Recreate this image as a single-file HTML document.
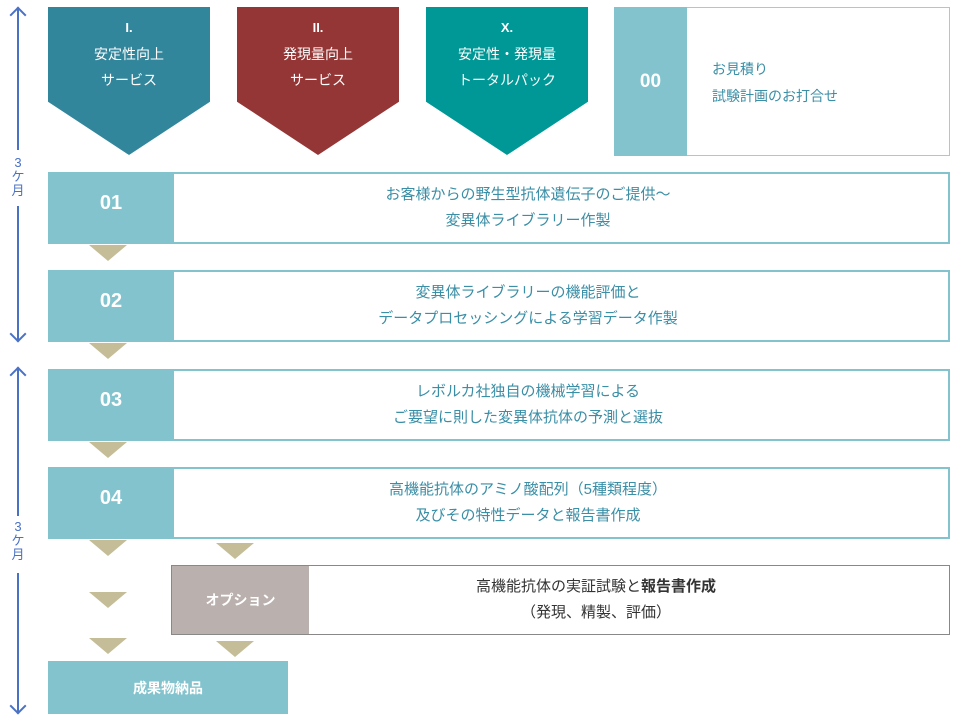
<!DOCTYPE html>
<html><head><meta charset="utf-8"><style>
*{margin:0;padding:0;box-sizing:border-box}
body{width:971px;height:723px;background:#fff;position:relative;overflow:hidden;font-family:"Liberation Sans","Noto Sans CJK JP",sans-serif}
.a{position:absolute}
.pent{position:absolute;top:7px;width:162px;height:148px;clip-path:polygon(0 0,100% 0,100% 64%,50% 100%,0 64%);color:#fff;text-align:center;font-size:14px;line-height:26px;padding-top:7px}
.pent b{font-size:13px}
.row{position:absolute;left:48px;width:902px;height:72px;border:2px solid #83c3cd;background:#fff}
.num{position:absolute;left:-2px;top:-2px;width:126px;height:72px;background:#83c3cd;color:#fff;font-weight:bold;font-size:20px;display:flex;align-items:center;justify-content:center;padding-bottom:10px}
.txt{position:absolute;left:124px;right:66px;top:0;bottom:0;display:flex;flex-direction:column;align-items:center;justify-content:center;color:#3a8ea6;font-size:15px;line-height:26px;padding-bottom:0}
.tri{position:absolute;width:0;height:0;border-left:19px solid transparent;border-right:19px solid transparent;border-top:16px solid #c5bd98}
.tl{position:absolute;left:17px;width:2px;background:#4a72c4}
.lab{position:absolute;left:10px;width:16px;color:#4a72c4;font-size:13px;line-height:14px;text-align:center}
.ah{position:absolute;left:11px;width:12px;height:12px;border-left:2px solid #4a72c4;border-top:2px solid #4a72c4}
</style></head><body>
<div class="tl" style="top:8px;height:142px"></div>
<div class="ah" style="top:9px;left:12px;transform:rotate(45deg)"></div>
<div class="lab" style="top:156px">3<br>ケ<br>月</div>
<div class="tl" style="top:206px;height:135px"></div>
<div class="ah" style="top:328px;left:12px;transform:rotate(225deg)"></div>
<div class="tl" style="top:368px;height:148px"></div>
<div class="ah" style="top:369px;left:12px;transform:rotate(45deg)"></div>
<div class="lab" style="top:520px">3<br>ケ<br>月</div>
<div class="tl" style="top:573px;height:140px"></div>
<div class="ah" style="top:700px;left:12px;transform:rotate(225deg)"></div>

<div class="pent" style="left:48px;background:#32869b"><b>I.</b><br>安定性向上<br>サービス</div>
<div class="pent" style="left:237px;background:#943636"><b>II.</b><br>発現量向上<br>サービス</div>
<div class="pent" style="left:426px;background:#009896"><b>X.</b><br>安定性・発現量<br>トータルパック</div>

<div class="a" style="left:614px;top:7px;width:336px;height:149px;border:1px solid #9fcdd4">
<div class="a" style="left:-1px;top:-1px;width:73px;height:149px;background:#83c3cd;color:#fff;font-weight:bold;font-size:19px;display:flex;align-items:center;justify-content:center">00</div>
<div class="a" style="left:97px;top:48px;color:#3a8ea6;font-size:14px;line-height:27px">お見積り<br>試験計画のお打合せ</div>
</div>

<div class="row" style="top:172px"><div class="num">01</div><div class="txt"><div>お客様からの野生型抗体遺伝子のご提供～</div><div>変異体ライブラリー作製</div></div></div>
<div class="tri" style="left:89px;top:245px"></div>
<div class="row" style="top:270px"><div class="num">02</div><div class="txt"><div>変異体ライブラリーの機能評価と</div><div>データプロセッシングによる学習データ作製</div></div></div>
<div class="tri" style="left:89px;top:343px"></div>
<div class="row" style="top:369px"><div class="num">03</div><div class="txt"><div>レボルカ社独自の機械学習による</div><div>ご要望に則した変異体抗体の予測と選抜</div></div></div>
<div class="tri" style="left:89px;top:442px"></div>
<div class="row" style="top:467px"><div class="num">04</div><div class="txt"><div>高機能抗体のアミノ酸配列（5種類程度）</div><div>及びその特性データと報告書作成</div></div></div>

<div class="tri" style="left:89px;top:540px"></div>
<div class="tri" style="left:216px;top:543px"></div>
<div class="tri" style="left:89px;top:592px"></div>
<div class="tri" style="left:89px;top:638px"></div>
<div class="tri" style="left:216px;top:641px"></div>

<div class="a" style="left:171px;top:565px;width:779px;height:70px;border:1px solid #888">
<div class="a" style="left:-1px;top:-1px;width:138px;height:70px;background:#bab0ae;color:#fff;font-weight:bold;font-size:14px;display:flex;align-items:center;justify-content:center;border:1px solid #888;border-right:none">オプション</div>
<div class="a" style="left:137px;right:66px;top:0;bottom:0;display:flex;flex-direction:column;align-items:center;justify-content:center;color:#333;font-size:15px;line-height:26px;padding-bottom:0"><div>高機能抗体の実証試験と<b>報告書作成</b></div><div>（発現、精製、評価）</div></div>
</div>

<div class="a" style="left:48px;top:661px;width:240px;height:53px;background:#83c3cd;color:#fff;font-weight:bold;font-size:14px;display:flex;align-items:center;justify-content:center">成果物納品</div>
</body></html>
